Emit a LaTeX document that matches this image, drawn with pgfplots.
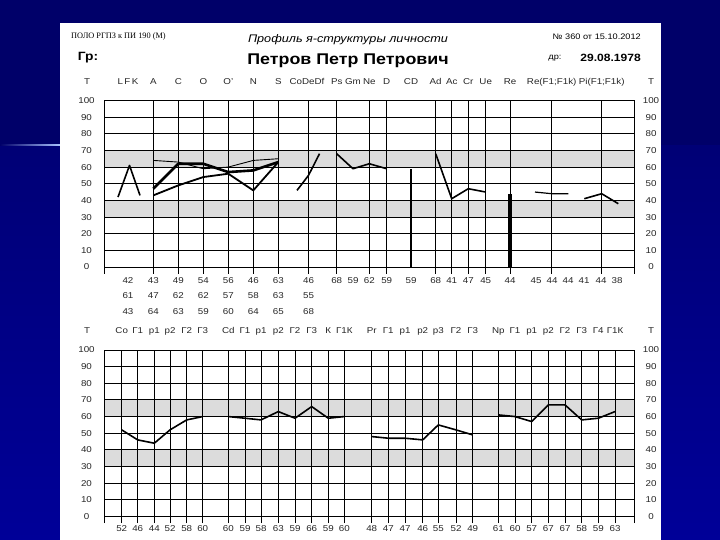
\documentclass[border=0pt]{standalone}
\usepackage{fontspec}
\setmainfont{Liberation Sans}[FakeStretch=1.15]
\newfontfamily\serifru{Liberation Serif}
\usepackage{pgfplots}
\pgfplotsset{compat=1.18}

\definecolor{slidetop}{RGB}{0,0,105}
\definecolor{slidebot}{RGB}{0,0,152}
\definecolor{band}{RGB}{220,220,220}

\pgfplotsset{
  profile/.style={
    scale only axis, width=529.7pt, height=173.2pt,
    xmin=104.3, xmax=634, ymin=-4, ymax=100,
    anchor=south west,
    axis line style={draw=none},
    major tick length=0pt,
    xticklabels={}, yticklabels={},
    ytick={0,10,...,100},
    grid=major,
    grid style={black, line width=0.9pt},
    axis on top, clip=false,
  },
  prof/.style={black, line width=1.6pt, line join=round, mark=none},
}

\begin{document}
\begin{tikzpicture}[x=1pt, y=1pt,
  lab/.style={font=\fontsize{8.5}{10}\selectfont, inner sep=0pt, anchor=base, text=black!85}]
\useasboundingbox (0,0) rectangle (720,540);
\clip (0,0) rectangle (720,540);

% slide background
\shade[top color=slidetop, bottom color=slidebot] (0,0) rectangle (720,540);
\fill[slidetop] (0,395) rectangle (720,540);
\shade[left color=slidetop, right color={rgb,255:red,170;green,195;blue,255}] (0,394.2) rectangle (60,395.8);
\fill[white] (60,0) rectangle (661,517.3);

% header
\node[anchor=west, inner sep=0pt, font=\serifru\fontsize{8.3}{9}\selectfont] at (71,503) {ПОЛО РГПЗ к ПИ 190 (М)};
\node[inner sep=0pt, font=\itshape\fontsize{11}{13}\selectfont] at (348,500) {Профиль я-структуры личности};
\node[inner sep=0pt, font=\bfseries\fontsize{15.5}{18}\selectfont] at (348,479) {Петров Петр Петрович};
\node[anchor=east, inner sep=0pt, font=\fontsize{8}{9}\selectfont] at (641,503) {№ 360 от 15.10.2012};
\node[inner sep=0pt, font=\fontsize{8}{9}\selectfont] at (555,482) {др:};
\node[anchor=east, inner sep=0pt, font=\bfseries\fontsize{10.5}{12}\selectfont] at (641,482) {29.08.1978};
\node[inner sep=0pt, font=\bfseries\fontsize{12}{14}\selectfont] at (88,482) {Гр:};

% ---------------- upper profile ----------------
\begin{axis}[profile, at={(104.3pt,266.34pt)},
  xtick={104.3,153.3,178.3,203.3,228.3,253.3,278.3,308.5,336.7,369.3,386.7,
         435.7,451.7,468.3,485.7,510,551.7,601.7,634}]
  \fill[band] (axis cs:104.3,60) rectangle (axis cs:634,70);
  \fill[band] (axis cs:104.3,30) rectangle (axis cs:634,40);
  % L F K
  \addplot[prof] coordinates {(118,42) (129.5,61) (140,43)};
  % A C O O' N S, three rows
  \addplot[prof, line width=1.8pt] coordinates {(153.3,43) (178.3,49) (203.3,54) (228.3,56) (253.3,46) (278.3,63)};
  \addplot[prof, line width=2.6pt] coordinates {(153.3,47) (178.3,62) (203.3,62) (228.3,57) (253.3,58) (278.3,63)};
  \addplot[prof, line width=0.9pt] coordinates {(153.3,64) (178.3,63) (203.3,59) (228.3,60) (253.3,64) (278.3,65)};
  % Co De Df
  \addplot[prof] coordinates {(297,46) (308.5,55) (319.5,68)};
  % Ps Gm Ne D
  \addplot[prof] coordinates {(336.7,68) (353,59) (369.3,62) (386.7,59)};
  % CD
  \addplot[prof, line width=2.8pt, line cap=butt] coordinates {(411,0) (411,59)};
  % Ad Ac Cr Ue
  \addplot[prof] coordinates {(435.7,68) (451.7,41) (468.3,47) (485.7,45)};
  % Re
  \addplot[prof, line width=3.6pt, line cap=butt] coordinates {(510,0) (510,44)};
  % Re(F1;F1k), Pi(F1;F1k)
  \addplot[prof, line width=1.2pt] coordinates {(535,45) (551.7,44) (568.3,44)};
  \addplot[prof] coordinates {(584.3,41) (601.7,44) (618.3,38)};
\end{axis}

% ---------------- lower profile ----------------
\begin{axis}[profile, at={(104.3pt,16.84pt)},
  xtick={104.3,121.7,137.7,154.3,170,186.7,202.7,228.3,245,261,278.3,295,311.7,328.3,344.3,
         371.7,388.3,405,422.7,438.3,456,472.7,498.3,515,531.7,548.3,565,581.7,598.3,615,634}]
  \fill[band] (axis cs:104.3,60) rectangle (axis cs:634,70);
  \fill[band] (axis cs:104.3,30) rectangle (axis cs:634,40);
  \addplot[prof] coordinates {(121.7,52) (137.7,46) (154.3,44) (170,52) (186.7,58) (202.7,60)};
  \addplot[prof] coordinates {(228.3,60) (245,59) (261,58) (278.3,63) (295,59) (311.7,66) (328.3,59) (344.3,60)};
  \addplot[prof] coordinates {(371.7,48) (388.3,47) (405,47) (422.7,46) (438.3,55) (456,52) (472.7,49)};
  \addplot[prof] coordinates {(498.3,61) (515,60) (531.7,57) (548.3,67) (565,67) (581.7,58) (598.3,59) (615,63)};
\end{axis}

% T scales
\foreach \v in {0,10,...,100} {
  \node[lab] at (86.5,{270+1.665*\v}) {\v};
  \node[lab] at (651,{270+1.665*\v}) {\v};
  \node[lab] at (86.5,{20.5+1.665*\v}) {\v};
  \node[lab] at (651,{20.5+1.665*\v}) {\v};
}

% upper column names
\foreach \x/\t in {87/T, 128/{L\,F\,K}, 153.3/A, 178.3/C, 203.3/O, 228.3/O', 253.3/N, 278.3/S,
  307/CoDeDf, 336.7/Ps, 353/Gm, 369.3/Ne, 386.7/D, 411/CD, 435.7/Ad, 451.7/Ac, 468.3/Cr,
  485.7/Ue, 510/Re, 551.7/{Re(F1;F1k)}, 601.7/{Pi(F1;F1k)}, 651/T}
  \node[lab] at (\x,455) {\t};

% upper values
\foreach \x/\t in {128/42, 153.3/43, 178.3/49, 203.3/54, 228.3/56, 253.3/46, 278.3/63, 308.5/46,
  336.7/68, 353/59, 369.3/62, 386.7/59, 411/59, 435.7/68, 451.7/41, 468.3/47, 485.7/45, 510/44,
  536/45, 552/44, 568/44, 584/41, 601/44, 617/38}
  \node[lab] at (\x,256.5) {\t};
\foreach \x/\t in {128/61, 153.3/47, 178.3/62, 203.3/62, 228.3/57, 253.3/58, 278.3/63, 308.5/55}
  \node[lab] at (\x,241) {\t};
\foreach \x/\t in {128/43, 153.3/64, 178.3/63, 203.3/59, 228.3/60, 253.3/64, 278.3/65, 308.5/68}
  \node[lab] at (\x,225.5) {\t};

% lower column names
\foreach \x/\t in {87/T, 121.7/Co, 137.7/Г1, 154.3/p1, 170/p2, 186.7/Г2, 202.7/Г3,
  228.3/Cd, 245/Г1, 261/p1, 278.3/p2, 295/Г2, 311.7/Г3, 328.3/К, 344.3/Г1К,
  371.7/Pr, 388.3/Г1, 405/p1, 422.7/p2, 438.3/p3, 456/Г2, 472.7/Г3,
  498.3/Np, 515/Г1, 531.7/p1, 548.3/p2, 565/Г2, 581.7/Г3, 598.3/Г4, 615/Г1К, 651/T}
  \node[lab] at (\x,206) {\t};

% lower values
\foreach \x/\t in {121.7/52, 137.7/46, 154.3/44, 170/52, 186.7/58, 202.7/60,
  228.3/60, 245/59, 261/58, 278.3/63, 295/59, 311.7/66, 328.3/59, 344.3/60,
  371.7/48, 388.3/47, 405/47, 422.7/46, 438.3/55, 456/52, 472.7/49,
  498.3/61, 515/60, 531.7/57, 548.3/67, 565/67, 581.7/58, 598.3/59, 615/63}
  \node[lab] at (\x,8) {\t};
\end{tikzpicture}
\end{document}
